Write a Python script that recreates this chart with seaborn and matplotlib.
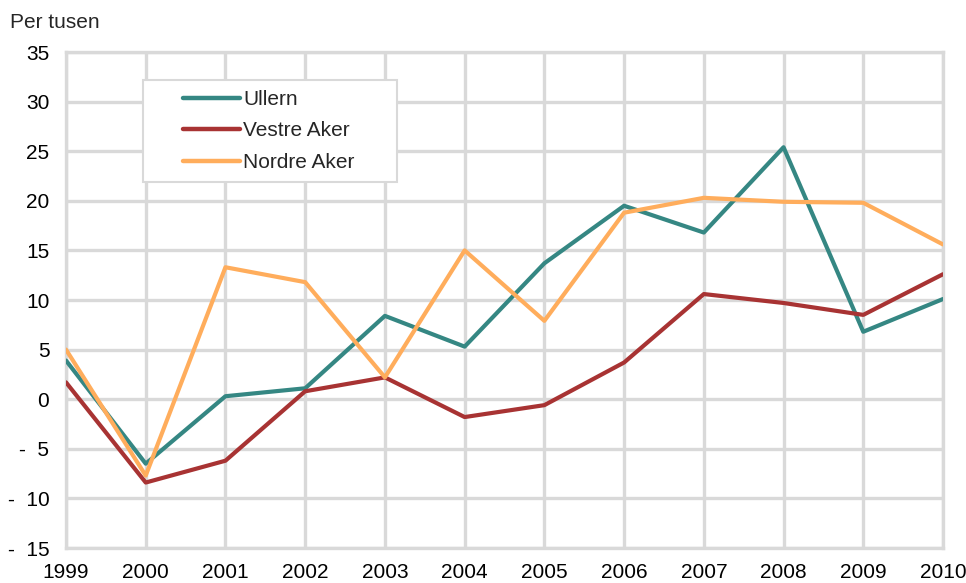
import matplotlib
matplotlib.use("Agg")
import matplotlib.pyplot as plt
from matplotlib.patches import Rectangle
import seaborn as sns
import pandas as pd

years = list(range(1999, 2011))
ullern = [3.9, -6.5, 0.3, 1.1, 8.4, 5.3, 13.7, 19.5, 16.8, 25.4, 6.8, 10.1]
vestre_aker = [1.7, -8.4, -6.2, 0.8, 2.2, -1.8, -0.6, 3.7, 10.6, 9.7, 8.5, 12.6]
nordre_aker = [5.0, -7.7, 13.3, 11.8, 2.2, 15.0, 7.9, 18.8, 20.3, 19.9, 19.8, 15.6]
series_names = ["Ullern", "Vestre Aker", "Nordre Aker"]
y_ticks = [-15, -10, -5, 0, 5, 10, 15, 20, 25, 30, 35]
y_tick_labels = ["-  15", "-  10", "-  5", "0", "5", "10", "15", "20", "25", "30", "35"]

df = pd.DataFrame({
    "year": years * 3,
    "value": ullern + vestre_aker + nordre_aker,
    "series": [series_names[0]] * 12 + [series_names[1]] * 12 + [series_names[2]] * 12,
})

sns.set_theme(style="white")
plt.rcParams["font.family"] = ["Liberation Sans", "DejaVu Sans"]

W, H = 966, 583
fig = plt.figure(figsize=(W / 100, H / 100), dpi=100)
ax = fig.add_axes([66 / W, 1 - 548 / H, 877 / W, 496 / H])

palette = {"Ullern": "#358783", "Vestre Aker": "#A83333", "Nordre Aker": "#FFAD5C"}
grid_c = "#d9d9d9"
fs = 15

sns.lineplot(data=df, x="year", y="value", hue="series", palette=palette,
             linewidth=3.0, ax=ax, zorder=3, legend=True)

ax.set_xlim(1999, 2010)
ax.set_ylim(-15, 35)
ax.set_xticks(years)
ax.set_xticklabels([str(y) for y in years])
ax.set_yticks(y_ticks)
ax.set_yticklabels(y_tick_labels)
ax.grid(True, color=grid_c, linewidth=2.4, zorder=0)
ax.set_axisbelow(True)
for s in ax.spines.values():
    s.set_visible(True)
    s.set_color(grid_c)
    s.set_linewidth(2.4)
ax.tick_params(axis="both", length=0, labelsize=fs, colors="black")
ax.tick_params(axis="x", pad=11)
ax.tick_params(axis="y", pad=12)
ax.set_xlabel("")
ax.set_ylabel("")

fig.text(10 / W, 1 - 22 / H, "Per tusen", fontsize=fs, va="center", ha="left")

# legend box background
box = Rectangle((143 / W, 1 - 182 / H), (397 - 143) / W, (182 - 80) / H,
                transform=fig.transFigure, facecolor="white", edgecolor=grid_c,
                linewidth=1.5, zorder=4, clip_on=False)
ax.add_patch(box)

leg = ax.legend(loc="upper left", bbox_to_anchor=(183 / W, 1 - 90 / H),
                bbox_transform=fig.transFigure,
                borderaxespad=0, frameon=False, fontsize=fs,
                handlelength=2.75, handletextpad=0.15, labelspacing=0.6,
                borderpad=0)
leg.set_zorder(5)
for line in leg.get_lines():
    line.set_linewidth(3.2)

fig.savefig("out.png", dpi=100, facecolor="white")
